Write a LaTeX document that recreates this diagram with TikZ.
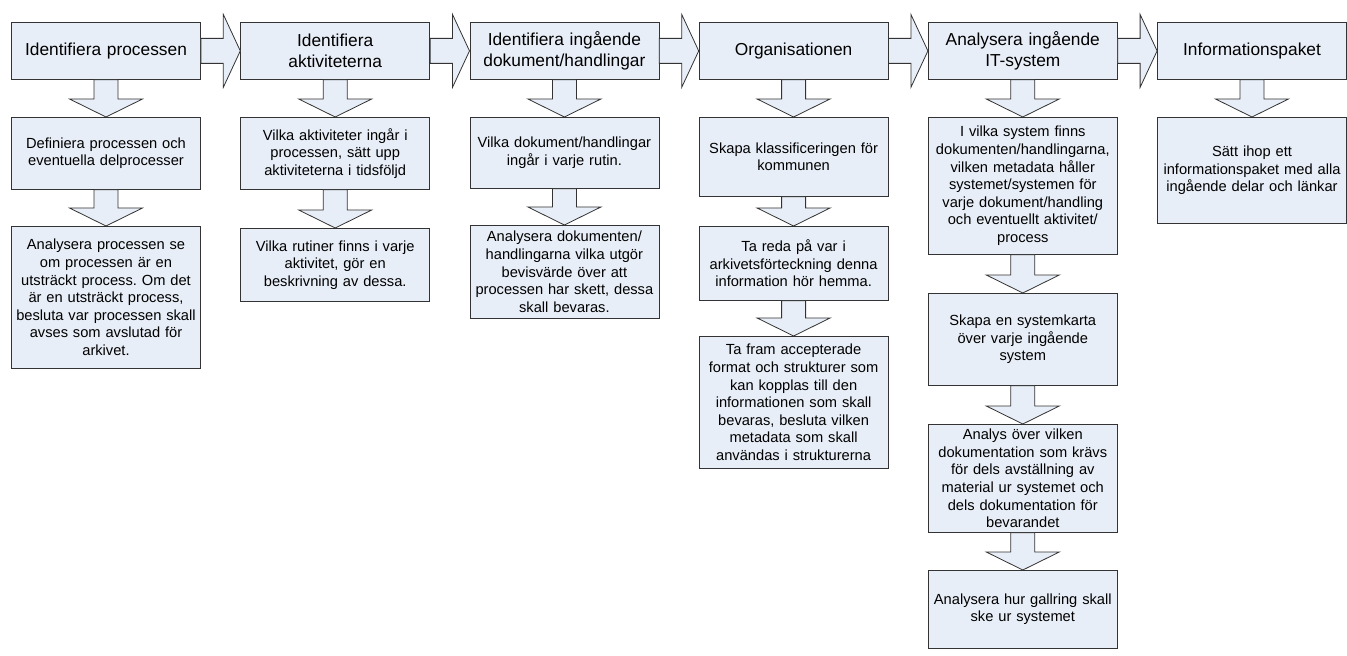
\documentclass[tikz,border=0pt]{standalone}
\usepackage{fontspec}
\setmainfont{Liberation Sans}
\usepackage{tikz}
\usetikzlibrary{calc}
\frenchspacing

\begin{document}
\begin{tikzpicture}[x=0.75pt, y=-0.75pt,
  ruta/.style={draw=black!80, fill=boxfill, line width=0.6pt, anchor=north,
    text width=139.25pt, inner xsep=1.25pt, inner ysep=1.5pt, align=center,
    font=\fontsize{11}{13.2}\selectfont},
  rubrik/.style={ruta, minimum height=42.75pt, font=\fontsize{13}{15.5}\selectfont},
  pilned/.style={draw=black!80, fill=boxfill, line width=0.6pt, line join=miter,
    to path={-- ($(\tikztostart)+(-12,0)$) -- ($(\tikztotarget)+(-12,-18)$)
      -- ($(\tikztotarget)+(-36.5,-18)$) -- (\tikztotarget)
      -- ($(\tikztotarget)+(36.5,-18)$) -- ($(\tikztotarget)+(12,-18)$)
      -- ($(\tikztostart)+(12,0)$) -- cycle}},
  pilhoger/.style={draw=black!80, fill=boxfill, line width=0.6pt, line join=miter,
    to path={-- ($(\tikztostart)+(0,-12.5)$) -- ($(\tikztotarget)+(-17,-12.5)$)
      -- ($(\tikztotarget)+(-17,-36.5)$) -- (\tikztotarget)
      -- ($(\tikztotarget)+(-17,36.5)$) -- ($(\tikztotarget)+(-17,12.5)$)
      -- ($(\tikztostart)+(0,12.5)$) -- cycle}}]
  \definecolor{boxfill}{RGB}{232,238,247}
  \useasboundingbox (0,0) rectangle (1347,656);
  % --- rubriker ---
  \node[rubrik] (proc)  at (106,22)    {Identifiera processen};
  \node[rubrik] (akt)   at (335.2,22)  {Identifiera\\aktiviteterna};
  \node[rubrik] (dok)   at (564.4,22)  {Identifiera ingående\\dokument/handlingar};
  \node[rubrik] (org)   at (793.6,22)  {Organisationen};
  \node[rubrik] (itsys) at (1022.8,22) {Analysera ingående\\IT-system};
  \node[rubrik] (paket) at (1252,22)   {Informationspaket};
  % --- processen ---
  \node[ruta, minimum height=54pt] (proc1) at (106,117)
    {Definiera processen och\\eventuella delprocesser};
  \node[ruta, minimum height=106.5pt] (proc2) at (106,226)
    {Analysera processen se\\om processen är en\\utsträckt process. Om det\\är en utsträckt process,\\besluta var processen skall\\avses som avslutad för\\arkivet.};
  % --- aktiviteterna ---
  \node[ruta, minimum height=54pt] (akt1) at (335.2,117)
    {Vilka aktiviteter ingår i\\processen, sätt upp\\aktiviteterna i tidsföljd};
  \node[ruta, minimum height=54.75pt] (akt2) at (335.2,228)
    {Vilka rutiner finns i varje\\aktivitet, gör en\\beskrivning av dessa.};
  % --- dokument ---
  \node[ruta, minimum height=53.25pt] (dok1) at (564.4,117)
    {Vilka dokument/handlingar\\ingår i varje rutin.};
  \node[ruta, minimum height=69.75pt] (dok2) at (564.4,225)
    {Analysera dokumenten/\\handlingarna vilka utgör\\bevisvärde över att\\processen har skett, dessa\\skall bevaras.};
  % --- organisationen ---
  \node[ruta, minimum height=59.25pt] (org1) at (793.6,117)
    {Skapa klassificeringen för\\kommunen};
  \node[ruta, minimum height=55.5pt] (org2) at (793.6,226)
    {Ta reda på var i\\arkivetsförteckning denna\\information hör hemma.};
  \node[ruta, minimum height=99pt] (org3) at (793.6,336)
    {Ta fram accepterade\\format och strukturer som\\kan kopplas till den\\informationen som skall\\bevaras, besluta vilken\\metadata som skall\\användas i strukturerna};
  % --- IT-system ---
  \node[ruta, minimum height=102.75pt] (itsys1) at (1022.8,117)
    {I vilka system finns\\dokumenten/handlingarna,\\vilken metadata håller\\systemet/systemen för\\varje dokument/handling\\och eventuellt aktivitet/\\process};
  \node[ruta, minimum height=69pt] (itsys2) at (1022.8,293)
    {Skapa en systemkarta\\över varje ingående\\system};
  \node[ruta, minimum height=81pt] (itsys3) at (1022.8,424)
    {Analys över vilken\\dokumentation som krävs\\för dels avställning av\\material ur systemet och\\dels dokumentation för\\bevarandet};
  \node[ruta, minimum height=58.5pt] (itsys4) at (1022.8,570)
    {Analysera hur gallring skall\\ske ur systemet};
  % --- informationspaket ---
  \node[ruta, minimum height=79.5pt] (paket1) at (1252,117)
    {Sätt ihop ett\\informationspaket med alla\\ingående delar och länkar};
  % --- pilar mellan rubrikerna ---
  \draw[pilhoger] (proc.east) to (akt.west);
  \draw[pilhoger] (akt.east) to (dok.west);
  \draw[pilhoger] (dok.east) to (org.west);
  \draw[pilhoger] (org.east) to (itsys.west);
  \draw[pilhoger] (itsys.east) to (paket.west);
  % --- pilar nedåt ---
  \draw[pilned] (proc.south) to (proc1.north);
  \draw[pilned] (proc1.south) to (proc2.north);
  \draw[pilned] (akt.south) to (akt1.north);
  \draw[pilned] (akt1.south) to (akt2.north);
  \draw[pilned] (dok.south) to (dok1.north);
  \draw[pilned] (dok1.south) to (dok2.north);
  \draw[pilned] (org.south) to (org1.north);
  \draw[pilned] (org1.south) to (org2.north);
  \draw[pilned] (org2.south) to (org3.north);
  \draw[pilned] (itsys.south) to (itsys1.north);
  \draw[pilned] (itsys1.south) to (itsys2.north);
  \draw[pilned] (itsys2.south) to (itsys3.north);
  \draw[pilned] (itsys3.south) to (itsys4.north);
  \draw[pilned] (paket.south) to (paket1.north);
\end{tikzpicture}
\end{document}
